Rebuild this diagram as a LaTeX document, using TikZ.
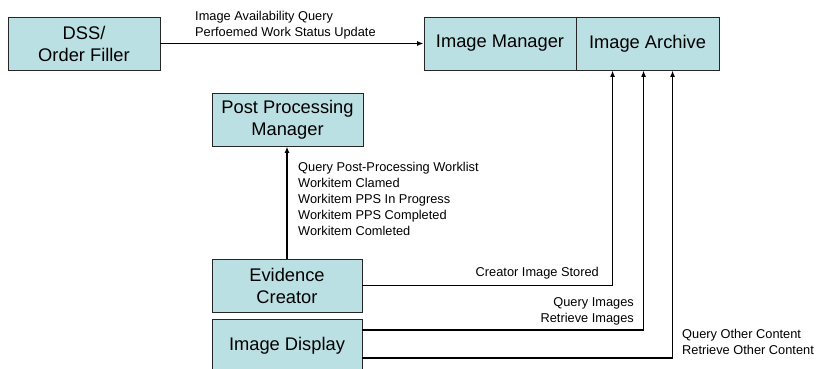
\documentclass[tikz,border=0pt]{standalone}
\usepackage{fontspec}
\setmainfont{Liberation Sans}
\usetikzlibrary{arrows.meta,calc}
\definecolor{boxfill}{RGB}{187,224,227}
\begin{document}
\begin{tikzpicture}[x=1pt,y=-1pt,
  box/.style={draw=black!85,line width=0.9pt,fill=boxfill,rectangle,align=center,
    minimum height=53pt,inner sep=0pt,font=\fontsize{18.3}{22}\selectfont},
  lab/.style={inner sep=0pt,font=\fontsize{12.8}{16}\selectfont},
  arr/.style={line width=1.4pt,-{Latex[length=6.5pt,width=5pt]}}]
\useasboundingbox (0,0) rectangle (821,369);
\clip (0,0) rectangle (821,369);
\node[box,minimum width=152pt] (dss) at (84,43.5) {DSS/\\Order Filler};
\node[box,minimum width=152pt] (im) at (500,43.5) {Image Manager};
\node[box,minimum width=143pt] (ia) at (647.5,43.5) {Image Archive};
\node[box,minimum width=151pt] (ppm) at (287.5,119.5) {Post Processing\\Manager};
\node[box,minimum width=150pt] (ec) at (287,285.5) {Evidence\\Creator};
\node[box,minimum width=150pt] (id) at (287,345.5) {Image Display};

\coordinate (t1) at ($(ia.south west)+(37,0)$);
\coordinate (t2) at ($(ia.south west)+(68,0)$);
\coordinate (t3) at ($(ia.south west)+(97,0)$);

\draw[arr] (dss.east) -- (im.west);
\draw[arr] (ec.north) -- (ec.north |- ppm.south);
\draw[arr] (ec.east) -| (t1);
\draw[arr] ([yshift=15.5pt]id.east) -| (t2);
\draw[arr] ([yshift=-12.5pt]id.east) -| (t3);

\node[lab,anchor=west,align=left] (l1) at (195,25.5) {Image Availability Query\\Perfoemed Work Status Update};
\node[lab,anchor=west,align=left] (l2) at (298,198.5) {Query Post-Processing Worklist\\Workitem Clamed\\Workitem PPS In Progress\\Workitem PPS Completed\\Workitem Comleted};
\node[lab,anchor=east] (l3) at (599,273) {Creator Image Stored};
\node[lab,anchor=east,align=right] (l4) at (634,311) {Query Images\\Retrieve Images};
\node[lab,anchor=west,align=left] (l5) at (682,342) {Query Other Content\\Retrieve Other Content};
\end{tikzpicture}
\end{document}
